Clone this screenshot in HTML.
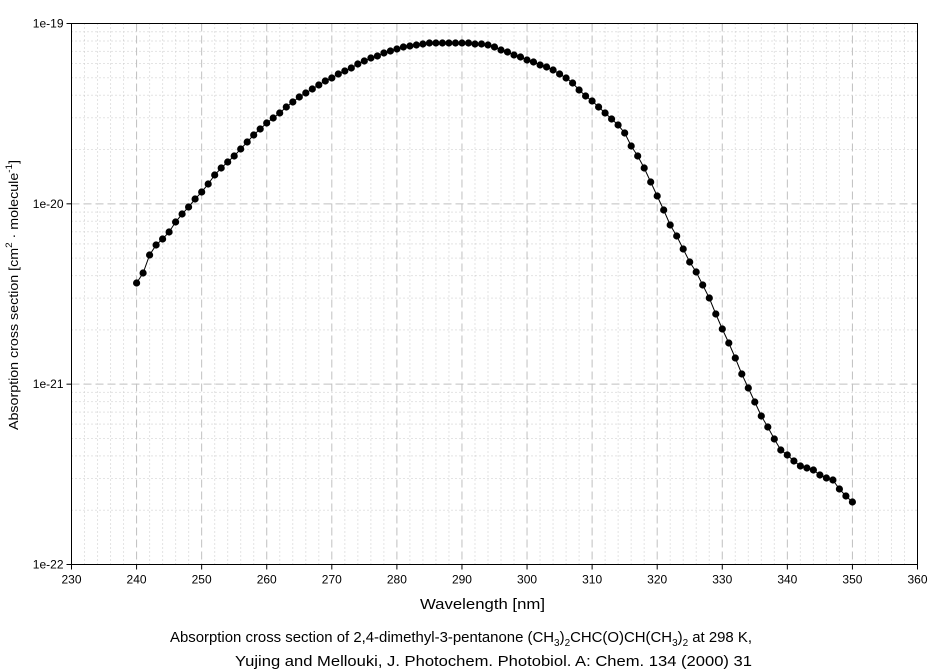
<!DOCTYPE html>
<html><head><meta charset="utf-8"><style>
body{margin:0;background:#fff;}
svg{display:block;font-family:"Liberation Sans",sans-serif;}
</style></head><body>
<svg id="s" width="940" height="672" xmlns="http://www.w3.org/2000/svg"></svg>
<script>
const s=document.getElementById('s');
const L=71.5,R=917.5,T=23.5,B=564.5;
const X=w=>L+(w-230)*(R-L)/130;
const dec=(B-T)/3;
const Y=v=>T+(-19-Math.log10(v))*dec;
let h='';
for(let w=232;w<360;w+=2){if(w%10==0)continue;h+=`<line x1="${X(w)}" y1="${T}" x2="${X(w)}" y2="${B}" stroke="#c8c8c8" stroke-dasharray="1,3"/>`;}
for(let d=-22;d<-19;d++)for(let m=2;m<=9;m++){const y=Y(m*Math.pow(10,d));h+=`<line x1="${L}" y1="${y}" x2="${R}" y2="${y}" stroke="#c8c8c8" stroke-dasharray="1,3"/>`;}
for(let w=240;w<360;w+=10)h+=`<line x1="${X(w)}" y1="${T}" x2="${X(w)}" y2="${B}" stroke="#c0c0c0" stroke-dasharray="8,4"/>`;
for(let d=-21;d<=-20;d++){const y=Y(Math.pow(10,d));h+=`<line x1="${L}" y1="${y}" x2="${R}" y2="${y}" stroke="#c0c0c0" stroke-dasharray="8,4"/>`;}
h+=`<rect x="${L}" y="${T}" width="${R-L}" height="${B-T}" fill="none" stroke="#000" stroke-width="1"/>`;
for(let w=230;w<=360;w+=10){h+=`<line x1="${X(w)}" y1="${B}" x2="${X(w)}" y2="${B+5}" stroke="#000"/><text x="${X(w)}" y="${B+19}" font-size="12" text-anchor="middle">${w}</text>`;}
['1e-19','1e-20','1e-21','1e-22'].forEach((t,i)=>{const y=T+i*dec;h+=`<line x1="${L-5}" y1="${y}" x2="${L}" y2="${y}" stroke="#000"/><text x="${L-8}" y="${y+4}" font-size="12" text-anchor="end">${t}</text>`;});
const ys=[283,273,255,245,239,232,222,214,207,199,192,184,175,168,162,156,149,142,135,129,123,118,113,107,102,97,93,89,85,81,78,74,71,68,64,61,58,56,53,51,49,47,46,45,44,43,43,43,43,43,43,43,44,44,45,47,50,52,55,57,60,62,65,67,70,74,78,83,90,96,101,107,113,119,125,133,146,156,168,182,196,210,225,236,249,262,272,285,298,314,329,343,358,374,388,402,416,427,439,450,455,461,466,468,470,475,478,480,489,496,502];
let pts=ys.map((y,i)=>`${X(240+i).toFixed(1)},${y}`).join(' ');
h+=`<polyline points="${pts}" fill="none" stroke="#000" stroke-width="1"/>`;
ys.forEach((y,i)=>{h+=`<circle cx="${X(240+i).toFixed(1)}" cy="${y}" r="3.6" fill="#000"/>`;});
h+=`<text x="420" y="609" font-size="15" textLength="125" lengthAdjust="spacingAndGlyphs">Wavelength [nm]</text>`;
h+=`<text transform="translate(18,430) rotate(-90)" font-size="13" textLength="270" lengthAdjust="spacingAndGlyphs">Absorption cross section [cm<tspan font-size="9" dy="-6">2</tspan><tspan dy="6"> · molecule</tspan><tspan font-size="9" dy="-6">-1</tspan><tspan dy="6">]</tspan></text>`;
h+=`<text x="170" y="642" font-size="15" textLength="582" lengthAdjust="spacingAndGlyphs">Absorption cross section of 2,4-dimethyl-3-pentanone (CH<tspan font-size="10" dy="4">3</tspan><tspan dy="-4">)</tspan><tspan font-size="10" dy="4">2</tspan><tspan dy="-4">CHC(O)CH(CH</tspan><tspan font-size="10" dy="4">3</tspan><tspan dy="-4">)</tspan><tspan font-size="10" dy="4">2</tspan><tspan dy="-4"> at 298 K,</tspan></text>`;
h+=`<text x="235" y="666" font-size="15" textLength="517" lengthAdjust="spacingAndGlyphs">Yujing and Mellouki, J. Photochem. Photobiol. A: Chem. 134 (2000) 31</text>`;
s.innerHTML=h;
</script>
</body></html>
